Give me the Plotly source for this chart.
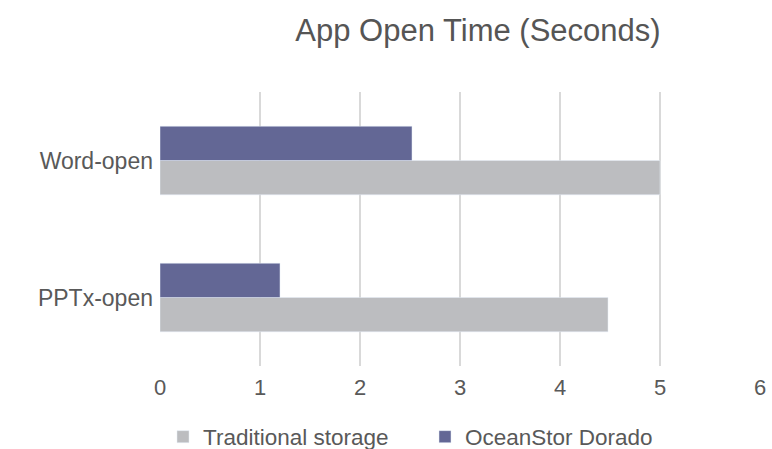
import plotly.graph_objects as go

categories = ["PPTx-open", "Word-open"]
traditional = [4.48, 5.0]
oceanstor = [1.2, 2.52]
x_ticks = [0, 1, 2, 3, 4, 5, 6]

fig = go.Figure()
fig.add_trace(go.Bar(y=categories, x=traditional, orientation="h",
                     name="Traditional storage", marker_color="#BCBDC0"))
fig.add_trace(go.Bar(y=categories, x=oceanstor, orientation="h",
                     name="OceanStor Dorado", marker_color="#636795"))

font = "Liberation Sans, Arial, sans-serif"
fig.update_layout(
    width=772, height=449,
    margin=dict(l=160, r=12, t=92, b=83, autoexpand=False),
    paper_bgcolor="white", plot_bgcolor="white",
    barmode="group", bargap=0.5, bargroupgap=0,
    title=dict(text="App Open Time (Seconds)", x=478/772, xanchor="center",
               y=1 - 30/449, yanchor="middle",
               font=dict(family=font, size=31, color="#555555")),
    xaxis=dict(range=[0, 6], tickvals=x_ticks, showgrid=True,
               gridcolor="#D9D9D9", gridwidth=1.5, zeroline=False,
               showline=False, ticks="", ticklabelstandoff=6,
               automargin=False,
               tickfont=dict(family=font, size=22, color="#595959")),
    yaxis=dict(categoryorder="array", categoryarray=categories,
               showgrid=False, zeroline=False, showline=False, ticks="",
               ticklabelstandoff=6, automargin=False,
               tickfont=dict(family=font, size=23, color="#595959")),
    legend=dict(orientation="h", x=163/772, xanchor="left", xref="container",
                y=(366 - 437) / 274, yanchor="middle", yref="paper",
                traceorder="normal", entrywidth=217,
                font=dict(family=font, size=22.5, color="#595959")),
    showlegend=True,
)
fig.write_html("out.html", config={"displayModeBar": False},
               post_script="document.body.style.margin='0';document.body.style.overflow='hidden';")
